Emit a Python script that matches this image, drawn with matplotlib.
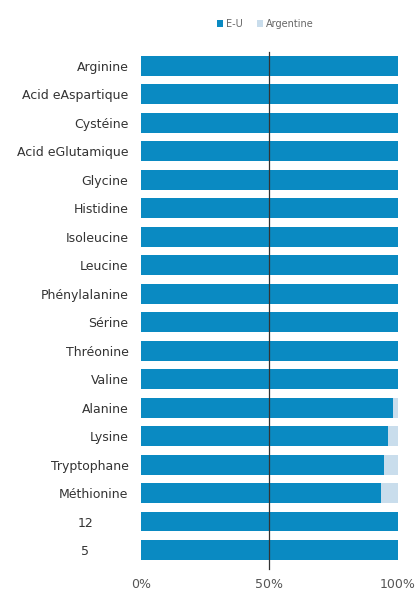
import numpy as np
import matplotlib.pyplot as plt
from matplotlib.ticker import FuncFormatter
from matplotlib.transforms import ScaledTranslation

# data, top to bottom
acides = ["Arginine", "Acid eAspartique", "Cystéine", "Acid eGlutamique",
          "Glycine", "Histidine", "Isoleucine", "Leucine", "Phénylalanine",
          "Sérine", "Thréonine", "Valine", "Alanine", "Lysine",
          "Tryptophane", "Méthionine", "12", "5"]
eu = [100, 100, 100, 100, 100, 100, 100, 100, 100, 100, 100, 100,
      98.3, 96.1, 94.6, 93.6, 100, 100]
argentine = [0, 0, 0, 0, 0, 0, 0, 0, 0, 0, 0, 0,
             1.7, 3.9, 5.4, 6.4, 0, 0]
ticks = [0, 50, 100]

bleu = "#0a8ac2"
bleu_clair = "#c9ddec"

fig = plt.figure(figsize=(4.17, 5.99), dpi=100)
ax = fig.add_axes([0.338, 0.058, 0.616, 0.856])

y = np.arange(len(acides))
ax.barh(y, eu, height=0.7, color=bleu, label="E-U")
ax.barh(y, argentine, left=eu, height=0.7, color=bleu_clair, label="Argentine")
ax.axvline(50, color="#333333", lw=0.9, ymin=-0.01, ymax=1.0, clip_on=False)

ax.set_ylim(len(acides) - 0.5, -0.5)
ax.set_xlim(0, 100)
ax.set_yticks(y)
ax.set_yticklabels(acides, fontsize=9, color="#333333")
ax.set_xticks(ticks)
ax.xaxis.set_major_formatter(FuncFormatter(lambda v, p: f"{v:.0f}%"))
ax.tick_params(axis="x", length=0, labelsize=9, labelcolor="#555555", pad=10)
ax.tick_params(axis="y", length=0, pad=9)
for s in ax.spines.values():
    s.set_visible(False)

# les deux dernieres etiquettes sont decalees vers la gauche
for lab in ax.get_yticklabels()[-2:]:
    lab.set_horizontalalignment("center")
    lab.set_transform(lab.get_transform() + ScaledTranslation(-0.43, 0, fig.dpi_scale_trans))

fig.legend(loc="center", bbox_to_anchor=(0.636, 0.96), ncol=2, frameon=False,
           fontsize=7, handlelength=0.6, handleheight=0.6, columnspacing=1.5,
           handletextpad=0.3, labelcolor="#666666")

fig.savefig("out.png", dpi=100)
